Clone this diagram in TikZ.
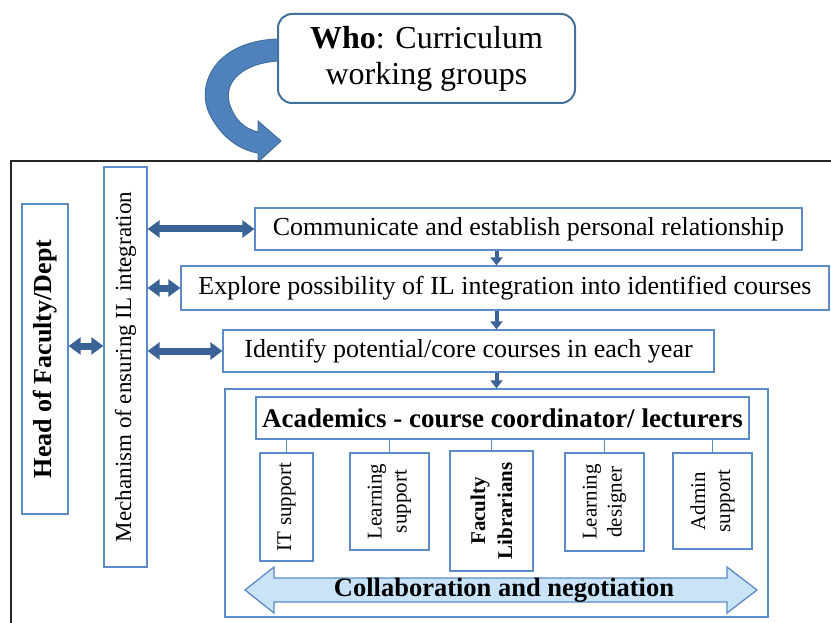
\documentclass[tikz,border=0pt]{standalone}
\usepackage{fontspec}
\setmainfont{Liberation Serif}
\usepackage{xcolor}
\usetikzlibrary{arrows.meta, positioning, calc}
\definecolor{boxblue}{HTML}{5B8BC9}
\definecolor{linkblue}{HTML}{3A6296}
\definecolor{whoblue}{HTML}{41719C}
\definecolor{curlblue}{HTML}{4F81BD}
\definecolor{collabfill}{HTML}{C9E4F8}
\tikzstyle{box} = [rectangle, draw=boxblue, line width=1.3pt, fill=white, inner sep=0pt, align=center, font=\fontsize{26}{30}\selectfont]
\tikzstyle{rolebox} = [box, rotate=90, font=\fontsize{21}{25}\selectfont]
\tikzstyle{link} = [linkblue, line width=7pt, {Triangle[length=12pt,width=17pt]}-{Triangle[length=12pt,width=17pt]}]
\tikzstyle{flow} = [linkblue, line width=4pt, -{Triangle[length=8pt,width=12pt]}]
\tikzstyle{tie} = [boxblue, line width=1.3pt]

\begin{document}
\begin{tikzpicture}[x=1pt,y=-1pt]
      \useasboundingbox (0,0) rectangle (831,623);
      % curled arrow out of the who box
      \filldraw [fill=curlblue, draw=whoblue, line width=1pt] (278,39) .. controls (215,41) and (195,85) .. (210,115) .. controls (222,138) and (240,150) .. (258,153) -- (258,162) -- (281,141) -- (258,121) -- (258,132) .. controls (245,129) and (234,120) .. (229,102) .. controls (224,80) and (245,63) .. (278,61) -- cycle;
      \node (who) [box, draw=whoblue, line width=2pt, rounded corners=14pt, minimum width=297pt, minimum height=89pt, font=\fontsize{32}{36}\selectfont] at (426.5,58.5) {\textbf{Who}: Curriculum\\working groups};
      % open frame
      \draw [black!85, line width=1.6pt] (11,623) -- (11,161) -- (831,161);
      \node (head) [box, rotate=90, minimum width=310pt, minimum height=46pt, font=\bfseries\fontsize{26}{30}\selectfont] at (45,359) {Head of Faculty/Dept};
      \node (mech) [box, rotate=90, minimum width=400pt, minimum height=43pt, font=\fontsize{23}{27}\selectfont] at (125.5,367) {Mechanism of ensuring IL integration};
      \node (comm) [box, minimum width=547pt, minimum height=42pt] at (528.5,229) {Communicate and establish personal relationship};
      \node (explore) [box, minimum width=648pt, minimum height=44pt] at (505,288) {Explore possibility of IL integration into identified courses};
      \node (identify) [box, minimum width=491pt, minimum height=42pt] at (468.5,351) {Identify potential/core courses in each year};
      \node (team) [box, minimum width=543pt, minimum height=228pt] at (496.5,503) {};
      \node (acad) [box, minimum width=493pt, minimum height=42pt, font=\bfseries\fontsize{27}{31}\selectfont] at (502.5,418) {Academics - course coordinator/ lecturers};
      \node (it) [rolebox, minimum width=108pt, minimum height=53pt] at (286.5,507) {IT support};
      \node (lsup) [rolebox, minimum width=97pt, minimum height=79pt] at (389.5,501.5) {Learning\\support};
      \node (flib) [rolebox, minimum width=120pt, minimum height=83pt, font=\bfseries\fontsize{21}{27}\selectfont] at (491.5,511) {Faculty\\Librarians};
      \node (ldes) [rolebox, minimum width=98pt, minimum height=79pt] at (604.5,502) {Learning\\designer};
      \node (admin) [rolebox, minimum width=96pt, minimum height=79pt] at (712.5,501) {Admin\\support};
      % two-headed band
      \filldraw [fill=collabfill, draw=boxblue, line width=1.3pt] (245,590) -- (274,567) -- (274,578) -- (727,578) -- (727,567) -- (757,590) -- (727,613) -- (727,602) -- (274,602) -- (274,613) -- cycle;
      \node (collab) [font=\bfseries\fontsize{26.5}{30}\selectfont] at (504,590) {Collaboration and negotiation};
      \draw [link] ([yshift=13pt]head.south) -- ([yshift=13pt]head.south -| mech.north);
      \draw [link] (comm.west -| mech.south) -- (comm.west);
      \draw [link] (explore.west -| mech.south) -- (explore.west);
      \draw [link] (identify.west -| mech.south) -- (identify.west);
      \draw [flow] (team.north |- comm.south) -- (team.north |- explore.north);
      \draw [flow] (team.north |- explore.south) -- (team.north |- identify.north);
      \draw [flow] (team.north |- identify.south) -- (team.north);
      \draw [tie] (acad.south -| it.east) -- (it.east);
      \draw [tie] (acad.south -| lsup.east) -- (lsup.east);
      \draw [tie] (acad.south -| flib.east) -- (flib.east);
      \draw [tie] (acad.south -| ldes.east) -- (ldes.east);
      \draw [tie] (acad.south -| admin.east) -- (admin.east);
    \end{tikzpicture}
\end{document}
